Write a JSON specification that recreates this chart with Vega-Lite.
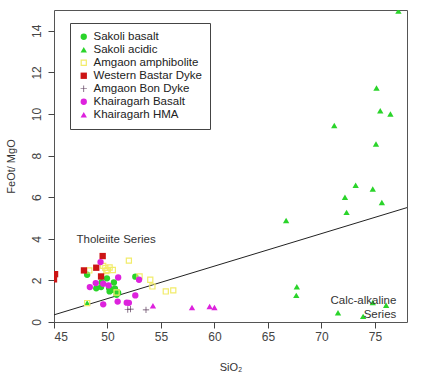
{
  "$schema": "https://vega.github.io/schema/vega-lite/v6.json",
  "width": 353,
  "height": 312,
  "autosize": {"type": "none"},
  "padding": {"left": 54, "top": 10, "right": 28, "bottom": 68},
  "background": "white",
  "config": {
    "view": {"stroke": "#555555", "strokeWidth": 1},
    "font": "Liberation Sans",
    "axis": {"grid": false, "domain": false, "tickColor": "#444444", "tickSize": 6, "labelColor": "#444444", "labelFontSize": 12, "titleColor": "#333333", "titleFontSize": 11, "titleFontWeight": "normal", "labelFont": "Liberation Sans", "titleFont": "Liberation Sans"}
  },
  "datasets": {
    "pts": [
      {"SiO2": 48.1, "ratio": 2.27, "group": "Sakoli basalt"},
      {"SiO2": 48.95, "ratio": 1.62, "group": "Sakoli basalt"},
      {"SiO2": 49.4, "ratio": 1.68, "group": "Sakoli basalt"},
      {"SiO2": 49.45, "ratio": 1.92, "group": "Sakoli basalt"},
      {"SiO2": 49.95, "ratio": 2.1, "group": "Sakoli basalt"},
      {"SiO2": 50.6, "ratio": 1.9, "group": "Sakoli basalt"},
      {"SiO2": 50.2, "ratio": 1.47, "group": "Sakoli basalt"},
      {"SiO2": 50.5, "ratio": 1.55, "group": "Sakoli basalt"},
      {"SiO2": 50.7, "ratio": 1.6, "group": "Sakoli basalt"},
      {"SiO2": 50.9, "ratio": 1.45, "group": "Sakoli basalt"},
      {"SiO2": 51.0, "ratio": 1.4, "group": "Sakoli basalt"},
      {"SiO2": 50.85, "ratio": 1.31, "group": "Sakoli basalt"},
      {"SiO2": 52.6, "ratio": 2.18, "group": "Sakoli basalt"},
      {"SiO2": 50.15, "ratio": 1.63, "group": "Sakoli basalt"},
      {"SiO2": 77.2, "ratio": 14.95, "group": "Sakoli acidic"},
      {"SiO2": 75.15, "ratio": 11.25, "group": "Sakoli acidic"},
      {"SiO2": 75.5, "ratio": 10.16, "group": "Sakoli acidic"},
      {"SiO2": 76.45, "ratio": 10.0, "group": "Sakoli acidic"},
      {"SiO2": 71.2, "ratio": 9.45, "group": "Sakoli acidic"},
      {"SiO2": 75.1, "ratio": 8.56, "group": "Sakoli acidic"},
      {"SiO2": 73.2, "ratio": 6.57, "group": "Sakoli acidic"},
      {"SiO2": 74.8, "ratio": 6.39, "group": "Sakoli acidic"},
      {"SiO2": 72.2, "ratio": 6.0, "group": "Sakoli acidic"},
      {"SiO2": 75.65, "ratio": 5.75, "group": "Sakoli acidic"},
      {"SiO2": 72.35, "ratio": 5.27, "group": "Sakoli acidic"},
      {"SiO2": 66.7, "ratio": 4.88, "group": "Sakoli acidic"},
      {"SiO2": 67.7, "ratio": 1.7, "group": "Sakoli acidic"},
      {"SiO2": 67.65, "ratio": 1.28, "group": "Sakoli acidic"},
      {"SiO2": 74.8, "ratio": 0.94, "group": "Sakoli acidic"},
      {"SiO2": 76.05, "ratio": 0.8, "group": "Sakoli acidic"},
      {"SiO2": 71.55, "ratio": 0.45, "group": "Sakoli acidic"},
      {"SiO2": 73.9, "ratio": 0.27, "group": "Sakoli acidic"},
      {"SiO2": 48.1, "ratio": 0.91, "group": "Sakoli acidic"},
      {"SiO2": 52.0, "ratio": 2.95, "group": "Amgaon amphibolite"},
      {"SiO2": 49.8, "ratio": 2.6, "group": "Amgaon amphibolite"},
      {"SiO2": 50.0, "ratio": 2.5, "group": "Amgaon amphibolite"},
      {"SiO2": 49.6, "ratio": 2.7, "group": "Amgaon amphibolite"},
      {"SiO2": 50.5, "ratio": 2.5, "group": "Amgaon amphibolite"},
      {"SiO2": 48.3, "ratio": 2.48, "group": "Amgaon amphibolite"},
      {"SiO2": 53.0, "ratio": 2.19, "group": "Amgaon amphibolite"},
      {"SiO2": 54.0, "ratio": 2.03, "group": "Amgaon amphibolite"},
      {"SiO2": 54.2, "ratio": 1.71, "group": "Amgaon amphibolite"},
      {"SiO2": 55.45, "ratio": 1.47, "group": "Amgaon amphibolite"},
      {"SiO2": 56.15, "ratio": 1.52, "group": "Amgaon amphibolite"},
      {"SiO2": 50.85, "ratio": 1.42, "group": "Amgaon amphibolite"},
      {"SiO2": 48.1, "ratio": 0.91, "group": "Amgaon amphibolite"},
      {"SiO2": 49.9, "ratio": 2.45, "group": "Amgaon amphibolite"},
      {"SiO2": 50.2, "ratio": 2.62, "group": "Amgaon amphibolite"},
      {"SiO2": 45.1, "ratio": 2.3, "group": "Western Bastar Dyke"},
      {"SiO2": 45.0, "ratio": 2.05, "group": "Western Bastar Dyke"},
      {"SiO2": 49.55, "ratio": 3.17, "group": "Western Bastar Dyke"},
      {"SiO2": 47.8, "ratio": 2.48, "group": "Western Bastar Dyke"},
      {"SiO2": 48.95, "ratio": 2.61, "group": "Western Bastar Dyke"},
      {"SiO2": 49.4, "ratio": 2.19, "group": "Western Bastar Dyke"},
      {"SiO2": 51.9, "ratio": 0.6, "group": "Amgaon Bon Dyke"},
      {"SiO2": 52.15, "ratio": 0.62, "group": "Amgaon Bon Dyke"},
      {"SiO2": 53.6, "ratio": 0.58, "group": "Amgaon Bon Dyke"},
      {"SiO2": 49.35, "ratio": 2.88, "group": "Khairagarh Basalt"},
      {"SiO2": 48.35, "ratio": 1.68, "group": "Khairagarh Basalt"},
      {"SiO2": 48.9, "ratio": 1.87, "group": "Khairagarh Basalt"},
      {"SiO2": 49.6, "ratio": 1.84, "group": "Khairagarh Basalt"},
      {"SiO2": 50.1, "ratio": 1.76, "group": "Khairagarh Basalt"},
      {"SiO2": 51.0, "ratio": 2.14, "group": "Khairagarh Basalt"},
      {"SiO2": 52.95, "ratio": 2.03, "group": "Khairagarh Basalt"},
      {"SiO2": 49.6, "ratio": 0.85, "group": "Khairagarh Basalt"},
      {"SiO2": 50.95, "ratio": 0.98, "group": "Khairagarh Basalt"},
      {"SiO2": 51.8, "ratio": 0.93, "group": "Khairagarh Basalt"},
      {"SiO2": 52.0, "ratio": 0.92, "group": "Khairagarh Basalt"},
      {"SiO2": 52.6, "ratio": 1.28, "group": "Khairagarh Basalt"},
      {"SiO2": 54.25, "ratio": 0.78, "group": "Khairagarh HMA"},
      {"SiO2": 57.9, "ratio": 0.7, "group": "Khairagarh HMA"},
      {"SiO2": 59.55, "ratio": 0.74, "group": "Khairagarh HMA"},
      {"SiO2": 60.0, "ratio": 0.7, "group": "Khairagarh HMA"}
    ],
    "line": [
      {"SiO2": 45, "ratio": 0.344},
      {"SiO2": 78, "ratio": 5.5}
    ],
    "labelsLeft": [
      {"SiO2": 47.1, "ratio": 3.96, "text": "Tholeiite Series"}
    ],
    "labelsRight": [
      {"SiO2": 77.0, "ratio": 0.99, "text": "Calc-alkaline"},
      {"SiO2": 77.0, "ratio": 0.32, "text": "Series"}
    ]
  },
  "layer": [
    {
      "data": {"name": "line"},
      "mark": {"type": "line", "color": "#222222", "strokeWidth": 1, "clip": true},
      "encoding": {
        "x": {"field": "SiO2", "type": "quantitative", "scale": {"domain": [45, 78], "nice": false, "zero": false}, "axis": {"values": [45, 50, 55, 60, 65, 70, 75], "title": "SiO₂", "titlePadding": 19, "labelPadding": 3}},
        "y": {"field": "ratio", "type": "quantitative", "scale": {"domain": [0, 15], "nice": false}, "axis": {"values": [0, 2, 4, 6, 8, 10, 12, 14], "title": "FeOt/ MgO", "labelAngle": -90, "labelAlign": "center", "labelBaseline": "bottom", "labelPadding": 5, "titlePadding": 14}}
      }
    },
    {
      "data": {"name": "pts"},
      "mark": {"type": "point", "filled": true, "opacity": 1, "clip": true},
      "encoding": {
        "x": {"field": "SiO2", "type": "quantitative"},
        "y": {"field": "ratio", "type": "quantitative"},
        "color": {"field": "group", "type": "nominal", "scale": {"domain": ["Sakoli basalt", "Sakoli acidic", "Amgaon amphibolite", "Western Bastar Dyke", "Amgaon Bon Dyke", "Khairagarh Basalt", "Khairagarh HMA"], "range": ["#2ad42a", "#2ad42a", "#f2ec6a", "#cc1414", "#5a3a5a", "#dd22dd", "#dd22dd"]},
          "legend": {"title": null, "orient": "none", "legendX": 16, "legendY": 13, "strokeColor": "#444444", "fillColor": "white", "padding": 8, "labelFontSize": 11.5, "labelColor": "#222222", "labelFont": "Liberation Sans", "symbolSize": 24, "rowPadding": 0, "labelOffset": 4, "symbolStrokeWidth": 0}},
        "shape": {"field": "group", "type": "nominal", "scale": {"domain": ["Sakoli basalt", "Sakoli acidic", "Amgaon amphibolite", "Western Bastar Dyke", "Amgaon Bon Dyke", "Khairagarh Basalt", "Khairagarh HMA"], "range": ["circle", "triangle-up", "M-1,-1H1V1H-1Z M-0.62,-0.62V0.62H0.62V-0.62Z", "square", "M-1,-0.11H1V0.11H-1Z M-0.11,-1H0.11V1H-0.11Z", "circle", "triangle-up"]}},
        "size": {"field": "group", "type": "nominal", "legend": null, "scale": {"domain": ["Sakoli basalt", "Sakoli acidic", "Amgaon amphibolite", "Western Bastar Dyke", "Amgaon Bon Dyke", "Khairagarh Basalt", "Khairagarh HMA"], "range": [40, 40, 85, 36, 110, 36, 40]}}
      }
    },
    {
      "data": {"name": "labelsLeft"},
      "mark": {"type": "text", "fontSize": 11.5, "color": "#333333", "baseline": "middle", "align": "left", "font": "Liberation Sans"},
      "encoding": {
        "x": {"field": "SiO2", "type": "quantitative"},
        "y": {"field": "ratio", "type": "quantitative"},
        "text": {"field": "text"}
      }
    },
    {
      "data": {"name": "labelsRight"},
      "mark": {"type": "text", "fontSize": 11.5, "color": "#333333", "baseline": "middle", "align": "right", "font": "Liberation Sans"},
      "encoding": {
        "x": {"field": "SiO2", "type": "quantitative"},
        "y": {"field": "ratio", "type": "quantitative"},
        "text": {"field": "text"}
      }
    }
  ]
}
